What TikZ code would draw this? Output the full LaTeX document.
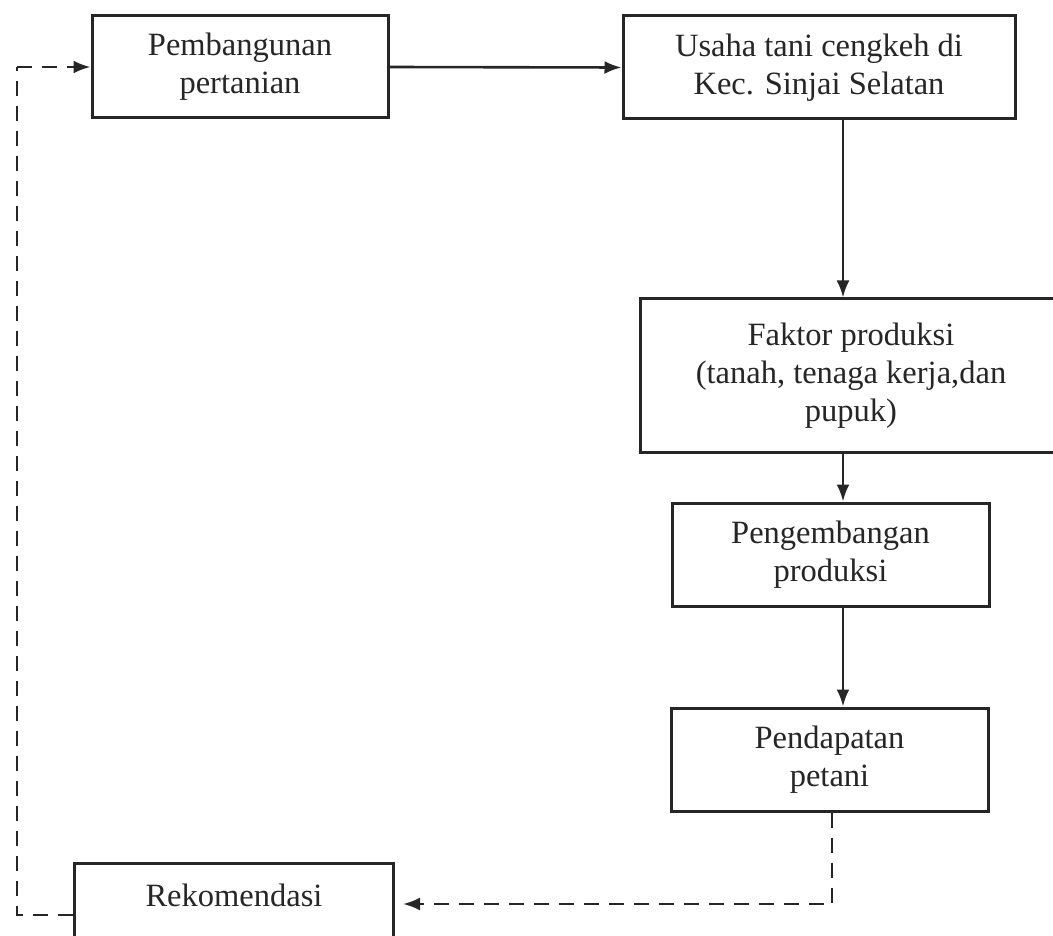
\documentclass[tikz,border=0pt]{standalone}
\usepackage{fontspec}
\setmainfont{Liberation Serif}
\usetikzlibrary{arrows.meta}
\begin{document}
\begin{tikzpicture}[x=1pt,y=-1pt,
  box/.style={draw=black!85, line width=3pt, rectangle, align=center, inner sep=0pt,
    font=\fontsize{32.5}{38}\selectfont, text=black!85},
  arr/.style={draw=black!85, line width=2.6pt, -{Latex[length=17pt,width=13pt]}},
  darr/.style={draw=black!85, line width=2.6pt, dash pattern=on 15pt off 10pt, -{Latex[length=17pt,width=13pt]}},
  dline/.style={draw=black!85, line width=2.6pt, dash pattern=on 15pt off 10pt}]
\useasboundingbox (0,0) rectangle (1053,936);
\clip (0,0) rectangle (1053,936);
\fill[white] (0,0) rectangle (1053,936);

\node[box, minimum width=296pt, minimum height=102pt] (p1) at (240,67) {Pembangunan\\pertanian};
\node[box, minimum width=392pt, minimum height=103pt] (u) at (819,67.5) {Usaha tani cengkeh di\\Kec. Sinjai Selatan};
\node[box, minimum width=422pt, minimum height=153pt] (f) at (851,375.5) {Faktor produksi\\(tanah, tenaga kerja,dan\\pupuk)};
\node[box, minimum width=317pt, minimum height=103pt] (pe) at (830.5,554.5) {Pengembangan\\produksi};
\node[box, minimum width=317pt, minimum height=103pt] (pd) at (829.5,759.5) {Pendapatan\\petani};
\node[box, anchor=north west, minimum width=319pt, text height=43pt, text depth=55pt] (rek) at (73,862) {Rekomendasi};

\coordinate (ax) at (843,0);
\coordinate (fb) at (832,904);
\coordinate (lb) at (17,915);
\coordinate (lt) at (17,67);

\draw[arr] (p1.east) -- (u.west);
\draw[arr] (u.south -| ax) -- (f.north -| ax);
\draw[arr] (f.south -| ax) -- (pe.north -| ax);
\draw[arr] (pe.south -| ax) -- (pd.north -| ax);
\draw[darr, shorten >=8pt] (pd.south -| fb) -- (fb) -- (rek.east |- fb);
\draw[dline] (rek.west |- lb) -- (lb) -- (lt);
\draw[darr] (lt) -- (p1.west);
\end{tikzpicture}
\end{document}
